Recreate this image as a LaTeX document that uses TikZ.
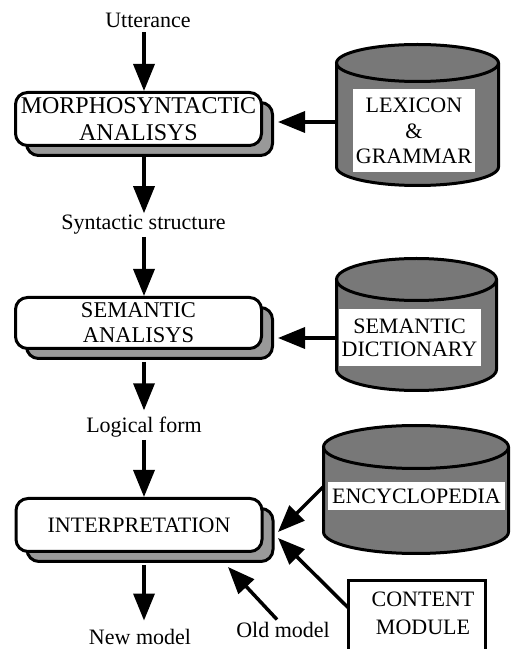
\documentclass[tikz,border=0pt]{standalone}
\usepackage{fontspec}
\setmainfont{Liberation Serif}
\usetikzlibrary{arrows.meta,shadows}
\definecolor{dither}{gray}{0.47}
\definecolor{shade}{gray}{0.6}

\begin{document}
\begin{tikzpicture}[x=1pt,y=1pt,
  lbl/.style={font=\fontsize{22}{25}\selectfont, inner sep=0pt},
  procbox/.style={draw, line width=3pt, rounded corners=12pt, fill=white,
    align=center, inner sep=0pt, minimum width=246pt, minimum height=53pt,
    general shadow={shadow xshift=11pt, shadow yshift=-10pt, fill=shade,
      draw=black, line width=3pt}},
  store/.style={fill=dither},
  storeline/.style={draw=black, line width=3pt},
  tag/.style={fill=white, inner sep=0pt, align=center},
  flow/.style={line width=3.5pt, -{Triangle[length=27pt,width=21pt]}}
]
\useasboundingbox (0,0) rectangle (511,649);

% processing stages
\node[procbox, font=\fontsize{24}{27}\selectfont] (morpho) at (138.5,530)
  {MORPHOSYNTACTIC\\ANALISYS};
\node[procbox, font=\fontsize{22.5}{25}\selectfont, minimum height=51pt] (sem)
  at (138.5,326) {SEMANTIC\\ANALISYS};
\node[procbox, font=\fontsize{22}{25}\selectfont] (interp) at (139,124)
  {INTERPRETATION};

% intermediate representations
\node[lbl, anchor=base] (utt) at (148,621) {Utterance};
\node[lbl, anchor=base, inner sep=2pt] (syn) at (143.5,419) {Syntactic structure};
\node[lbl, anchor=base, inner sep=2pt] (logic) at (144,216) {Logical form};
\node[lbl, anchor=base, inner sep=2pt] (newm) at (140,5) {New model};
\node[lbl, anchor=base] (old) at (283,11) {Old model};

% knowledge stores (cylinders)
% lexicon & grammar
\path[store] (336.5,586) -- (336.5,482)
  arc[start angle=180,end angle=360,x radius=81pt,y radius=18.5pt]
  -- (498.5,586)
  arc[start angle=0,end angle=180,x radius=81pt,y radius=18.5pt] -- cycle;
\draw[storeline] (336.5,586) -- (336.5,482)
  arc[start angle=180,end angle=360,x radius=81pt,y radius=18.5pt] -- (498.5,586);
\draw[storeline] (417.5,586) ellipse[x radius=81pt, y radius=18.5pt];
\node[tag, minimum width=122pt, minimum height=83pt,
  font=\fontsize{22}{25.5}\selectfont] (lex) at (414,518) {LEXICON\\\&\\GRAMMAR};

% semantic dictionary
\path[store] (336.5,369.5) -- (336.5,279.5)
  arc[start angle=180,end angle=360,x radius=80pt,y radius=21pt]
  -- (496.5,369.5)
  arc[start angle=0,end angle=180,x radius=80pt,y radius=21pt] -- cycle;
\draw[storeline] (336.5,369.5) -- (336.5,279.5)
  arc[start angle=180,end angle=360,x radius=80pt,y radius=21pt] -- (496.5,369.5);
\draw[storeline] (416.5,369.5) ellipse[x radius=80pt, y radius=21pt];
\node[tag, minimum width=142pt, minimum height=57pt,
  font=\fontsize{22}{23}\selectfont] (dict) at (409.5,311) {SEMANTIC\\DICTIONARY};

% encyclopedia
\path[store] (323.5,202) -- (323.5,117)
  arc[start angle=180,end angle=360,x radius=92.5pt,y radius=21.5pt]
  -- (508.5,202)
  arc[start angle=0,end angle=180,x radius=92.5pt,y radius=21.5pt] -- cycle;
\draw[storeline] (323.5,202) -- (323.5,117)
  arc[start angle=180,end angle=360,x radius=92.5pt,y radius=21.5pt] -- (508.5,202);
\draw[storeline] (416,202) ellipse[x radius=92.5pt, y radius=21.5pt];
\node[tag, minimum width=177pt, minimum height=28pt,
  font=\fontsize{22}{25}\selectfont] (ency) at (416.5,153) {ENCYCLOPEDIA};

% content module (runs off the lower edge)
\node[draw, line width=3pt, minimum width=137pt, minimum height=100pt,
  anchor=north, inner sep=0pt] (content) at (417,69.5) {};
\node[lbl, align=center, font=\fontsize{22}{28}\selectfont] (contentlbl)
  at (423,35.3) {CONTENT\\MODULE};

% connector end points
\coordinate (spine) at (144,0);
\coordinate (lexw) at (336.5,527);
\coordinate (dictw) at (336.5,311);
\coordinate (encw) at (323,162);
\coordinate (enctip) at (278,117);
\coordinate (contw) at (348.5,41);
\coordinate (conttip) at (278,111);
\coordinate (oldtip) at (228,82);

% main pipeline
\draw[flow, shorten <=4pt] (utt.south -| spine) -- (morpho.north -| spine);
\draw[flow] ([yshift=-10pt]morpho.south -| spine) -- (syn.north -| spine);
\draw[flow] (syn.south -| spine) -- (sem.north -| spine);
\draw[flow, shorten >=5pt] ([yshift=-12pt]sem.south -| spine) -- (logic.north -| spine);
\draw[flow] (logic.south -| spine) -- (interp.north -| spine);
\draw[flow, shorten >=6pt] ([yshift=-12pt]interp.south -| spine) -- (newm.north -| spine);

% knowledge inputs
\draw[flow] (lexw) -- ([xshift=15pt]morpho.east |- lexw);
\draw[flow] (dictw) -- ([xshift=15pt]sem.east |- dictw);
\draw[flow] (encw) -- (enctip);
\draw[flow] (contw) -- (conttip);
\draw[flow] ([xshift=-6pt,yshift=3pt]old.north) -- (oldtip);
\end{tikzpicture}
\end{document}
